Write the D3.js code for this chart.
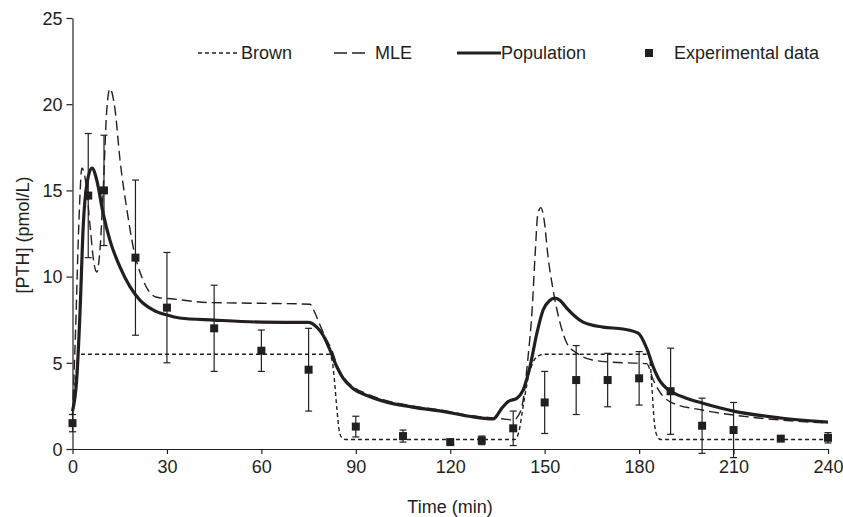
<!DOCTYPE html>
<html>
<head>
<meta charset="utf-8">
<script src="https://cdn.jsdelivr.net/npm/d3@7"></script>
<style>
  html, body { margin: 0; padding: 0; background: #fff; }
  svg { display: block; font-family: "Liberation Sans", Arial, sans-serif; }
</style>
</head>
<body>
<svg id="chart" width="843" height="517"></svg>
<script>
// ---------- data ----------
const xTicks = [0, 30, 60, 90, 120, 150, 180, 210, 240];
const yTicks = [0, 5, 10, 15, 20, 25];

const expTime  = [0, 5, 10, 20, 30, 45, 60, 75, 90, 105, 120, 130, 140, 150, 160, 170, 180, 190, 200, 210, 225, 240];
const expValue = [1.5, 14.7, 15.0, 11.1, 8.2, 7.0, 5.7, 4.6, 1.3, 0.75, 0.4, 0.5, 1.2, 2.7, 4.0, 4.0, 4.1, 3.35, 1.35, 1.1, 0.6, 0.65];
const expError = [0.5, 3.6, 3.2, 4.5, 3.2, 2.5, 1.2, 2.4, 0.6, 0.35, 0.1, 0.25, 1.0, 1.8, 2.0, 1.55, 1.55, 2.5, 1.6, 1.6, 0.15, 0.3];

const brownTime  = [0, 1.2, 2, 81.5, 82.5, 83.2, 84, 84.8, 85.6, 87, 140.5, 141.8, 143, 144, 144.8, 146, 147.5, 150, 183, 183.6, 184.1, 184.8, 185.6, 186.8, 240];
const brownValue = [2.0, 4.5, 5.5, 5.5, 5.1, 4.0, 2.3, 1.0, 0.65, 0.55, 0.55, 1.0, 2.3, 3.4, 4.2, 4.9, 5.35, 5.5, 5.5, 4.8, 3.5, 1.6, 0.8, 0.55, 0.55];

const popTime  = [0, 1.4, 2.4, 3.4, 4.6, 6.2, 7.7, 9.7, 11.9, 15.1, 18.3, 21.4, 25.7, 30, 34, 45, 60, 74.8, 77.6, 79.6, 81.8, 84, 86, 89.2, 93.5, 99.8, 108, 119, 126, 133.6, 136.4, 138.4, 141.2, 143.1, 145.3, 147.5, 149.5, 151.5, 153.3, 155, 157, 162.2, 168.5, 174.9, 179.7, 182.5, 184.5, 186.6, 188.5, 190, 195, 200, 210, 225, 240];
const popValue = [2.2, 4.2, 8.0, 12.9, 15.4, 16.3, 15.6, 13.7, 12.1, 10.55, 9.4, 8.64, 8.06, 7.77, 7.6, 7.48, 7.36, 7.34, 7.07, 6.6, 5.74, 4.75, 4.1, 3.5, 3.1, 2.72, 2.43, 2.14, 1.9, 1.74, 2.37, 2.75, 2.95, 3.4, 4.75, 6.7, 8.06, 8.6, 8.75, 8.6, 8.17, 7.36, 7.07, 6.96, 6.72, 5.8, 4.75, 3.95, 3.55, 3.35, 2.95, 2.67, 2.2, 1.8, 1.56];

const mleTime  = [0, 1, 2, 3, 4.2, 5.6, 6.8, 7.7, 8.7, 9.7, 10.9, 11.9, 13.5, 15.1, 17.3, 19.3, 22.4, 26.8, 32, 42.7, 60, 75.4, 77, 78.6, 80.8, 82.4, 84, 86, 89.2, 93.5, 99.8, 108, 119, 126, 133.6, 138, 140, 141.5, 143, 144.7, 146, 147, 147.8, 148.8, 149.8, 151.1, 152.7, 154.9, 157, 160.2, 164.4, 170.8, 182.4, 184.5, 186.6, 190, 200, 210, 225, 240];
const mleValue = [2.0, 7, 13, 16.3, 15.5, 12.9, 10.8, 10.26, 11.5, 14.8, 19.7, 20.9, 19.7, 16.75, 13.86, 11.7, 9.8, 8.8, 8.7, 8.5, 8.45, 8.4, 7.9, 7.2, 6.3, 5.74, 4.87, 4.2, 3.6, 3.2, 2.8, 2.5, 2.2, 1.95, 1.8, 1.72, 1.68, 1.9, 2.67, 5.3, 8.06, 11.4, 13.6, 14.0, 13.3, 11.1, 9.2, 7.3, 6.15, 5.56, 5.2, 5.04, 4.95, 4.0, 3.3, 2.72, 2.26, 1.97, 1.68, 1.5];

const legendLabels = ["Brown", "MLE", "Population", "Experimental data"];
const xLabel = "Time (min)";
const yLabel = "[PTH] (pmol/L)";

// ---------- drawing ----------
const ink = "#231f20";
const svg = d3.select("#chart");
const x = d3.scaleLinear().domain([0, 240]).range([72.5, 828]);
const y = d3.scaleLinear().domain([0, 25]).range([449, 18]);

// axes
const xAxis = svg.append("g").attr("transform", `translate(0,${y(0)})`)
  .call(d3.axisBottom(x).tickValues(xTicks).tickSize(5).tickSizeOuter(0).tickPadding(6));
const yAxis = svg.append("g").attr("transform", `translate(${x(0)},0)`)
  .call(d3.axisLeft(y).tickValues(yTicks).tickSize(6).tickSizeOuter(0).tickPadding(4));
[xAxis, yAxis].forEach(g => {
  g.select(".domain").attr("stroke", ink).attr("stroke-width", 1.2);
  g.selectAll(".tick line").attr("stroke", ink).attr("stroke-width", 1.2);
  g.selectAll(".tick text").attr("fill", ink).style("font-size", "18px")
    .style("font-family", "'Liberation Sans', Arial, sans-serif");
});
yAxis.selectAll(".tick text").attr("dy", "0.35em");

// axis titles
svg.append("text").attr("x", 450).attr("y", 513).attr("text-anchor", "middle")
  .attr("fill", ink).style("font-size", "18px").text(xLabel);
svg.append("text").attr("transform", "translate(29,235) rotate(-90)").attr("text-anchor", "middle")
  .attr("fill", ink).style("font-size", "18px").text(yLabel);

const pts = (ts, vs) => ts.map((t, i) => [t, vs[i]]);
const line = d3.line().x(d => x(d[0])).y(d => y(d[1])).curve(d3.curveMonotoneX);

// Brown
svg.append("path").datum(pts(brownTime, brownValue)).attr("d", line)
  .attr("fill", "none").attr("stroke", ink).attr("stroke-width", 1.4).attr("stroke-dasharray", "4,3");
// MLE
svg.append("path").datum(pts(mleTime, mleValue)).attr("d", line)
  .attr("fill", "none").attr("stroke", ink).attr("stroke-width", 1.4).attr("stroke-dasharray", "10,5");

// error bars
const eb = svg.append("g").attr("stroke", ink).attr("stroke-width", 1.2);
expTime.forEach((t, i) => {
  const lo = y(expValue[i] - expError[i]), hi = y(expValue[i] + expError[i]), cx = x(t);
  eb.append("line").attr("x1", cx).attr("x2", cx).attr("y1", lo).attr("y2", hi);
  eb.append("line").attr("x1", cx - 3.5).attr("x2", cx + 3.5).attr("y1", lo).attr("y2", lo);
  eb.append("line").attr("x1", cx - 3.5).attr("x2", cx + 3.5).attr("y1", hi).attr("y2", hi);
});

// Population
svg.append("path").datum(pts(popTime, popValue)).attr("d", line)
  .attr("fill", "none").attr("stroke", ink).attr("stroke-width", 3.2).attr("stroke-linejoin", "round");

// squares
svg.append("g").selectAll("rect").data(expTime).join("rect")
  .attr("x", (t) => x(t) - 4).attr("y", (t, i) => y(expValue[i]) - 4)
  .attr("width", 8).attr("height", 8).attr("fill", ink);

// legend
const ly = 53;
const lg = svg.append("g");
lg.append("line").attr("x1", 198).attr("x2", 240).attr("y1", ly).attr("y2", ly)
  .attr("stroke", ink).attr("stroke-width", 1.4).attr("stroke-dasharray", "4,3");
lg.append("line").attr("x1", 334).attr("x2", 366).attr("y1", ly).attr("y2", ly)
  .attr("stroke", ink).attr("stroke-width", 1.4).attr("stroke-dasharray", "13,5");
lg.append("line").attr("x1", 457).attr("x2", 501).attr("y1", ly).attr("y2", ly)
  .attr("stroke", ink).attr("stroke-width", 3.2);
lg.append("rect").attr("x", 645).attr("y", ly - 4).attr("width", 8).attr("height", 8).attr("fill", ink);
const lx = [241, 375, 501, 674];
legendLabels.forEach((s, i) => {
  lg.append("text").attr("x", lx[i]).attr("y", ly + 6).attr("fill", ink)
    .style("font-size", "18px").text(s);
});
</script>
</body>
</html>
